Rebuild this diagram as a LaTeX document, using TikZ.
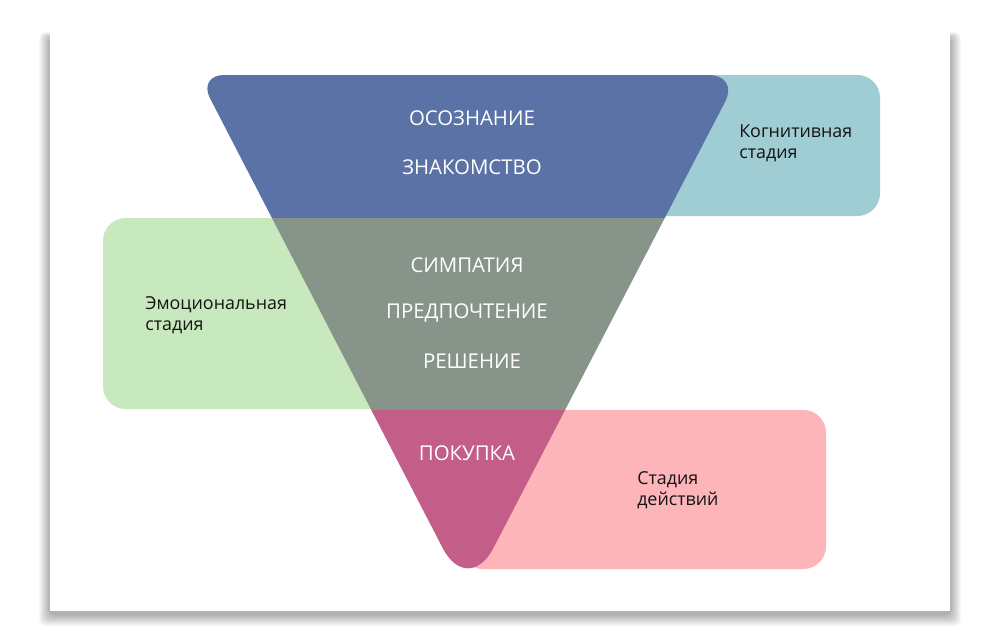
\documentclass[tikz,border=0pt]{standalone}
\usepackage{fontspec}
\setmainfont{Open Sans}
\usetikzlibrary{calc}
\definecolor{cblue}{HTML}{5B72A6}
\definecolor{cgray}{HTML}{87948A}
\definecolor{cmag}{HTML}{C35E88}
\definecolor{cteal}{HTML}{9FCDD3}
\definecolor{cgreen}{HTML}{C8E8BD}
\definecolor{cpink}{HTML}{FDB5B9}
\tikzset{
  stagetxt/.style={text=white, font=\fontsize{15.3}{18}\selectfont, inner sep=0pt},
  sidetxt/.style={text=black!92, font=\fontsize{13.4}{15.75}\selectfont, align=left, anchor=west, inner sep=0pt},
  box/.style={rounded corners=17pt}
}
\begin{document}
\begin{tikzpicture}[x=0.75pt, y=-0.75pt]
\useasboundingbox (0,0) rectangle (1000,643);
\fill[white] (0,0) rectangle (1000,643);
% card shadow
\foreach \i in {1,...,12}{
  \fill[black, opacity=0.026, rounded corners=4pt] (50-\i*0.9, 30+8-\i*0.5) rectangle (950+\i*0.9, 611+3+\i*1.0);
}
\fill[white] (50,30) rectangle (950,611);
% side stage boxes
\fill[cteal, box] (640,75) rectangle (880,216);
\fill[cgreen, box] (103,218) rectangle (420,409);
\fill[cpink, box] (460,410) rectangle (826,569);
% funnel triangle
\begin{scope}
\clip (224,75) -- (709,75) .. controls (725.5,75) and (732.78,86.98) .. (725.18,101.62)
  -- (493.34,548.19) .. controls (479.40,575.04) and (456.63,575.02) .. (442.73,548.15)
  -- (209.94,98.09) .. controls (203.37,85.39) and (209.7,75) .. (224,75) -- cycle;
\fill[cblue] (150,60) rectangle (800,217.5);
\fill[cgray] (150,217.5) rectangle (800,409.5);
\fill[cmag] (150,409.5) rectangle (800,610);
\end{scope}
% stage labels
\node[stagetxt] (t1) at (472,118) {ОСОЗНАНИЕ};
\node[stagetxt] (t2) at (472,167) {ЗНАКОМСТВО};
\node[stagetxt] (t3) at (467,265) {СИМПАТИЯ};
\node[stagetxt] (t4) at (467,313) {ПРЕДПОЧТЕНИЕ};
\node[stagetxt] (t5) at (472,361) {РЕШЕНИЕ};
\node[stagetxt] (t6) at (467,453) {ПОКУПКА};
% side labels
\node[sidetxt] (s1) at (739,143.5) {Когнитивная\\стадия};
\node[sidetxt] (s2) at (145,315) {Эмоциональная\\стадия};
\node[sidetxt] (s3) at (637,490) {Стадия\\действий};
\end{tikzpicture}
\end{document}
